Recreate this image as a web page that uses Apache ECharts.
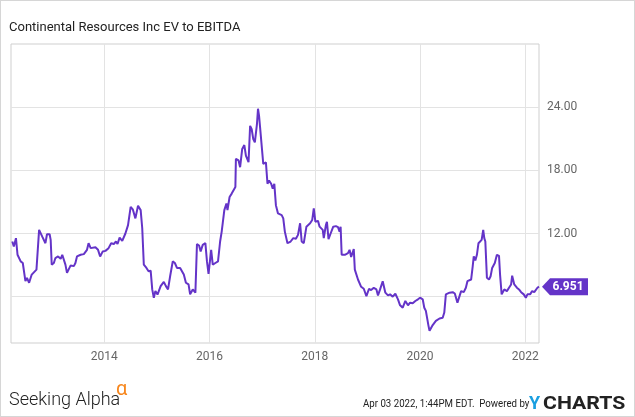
<!DOCTYPE html>
<html>
<head>
<meta charset="utf-8">
<script src="https://cdn.jsdelivr.net/npm/echarts@6.0.0/dist/echarts.min.js"></script>
<style>
  html, body { margin: 0; padding: 0; background: #fff; }
  #chart { width: 635px; height: 417px; box-sizing: border-box; border: 1px solid #d6d6d6; }
</style>
</head>
<body>
<div id="chart"></div>
<script>
// x ticks (years) and y ticks
const yearTicks = [2014, 2016, 2018, 2020, 2022];
const valueTicks = [6, 12, 18, 24];
const valueLabels = [12, 18, 24];
const lastValue = 6.951;

// [decimal year, EV/EBITDA]
const evToEbitda = [
  [2012.25, 11.24], [2012.28, 10.76], [2012.32, 11.56], [2012.35, 9.98], [2012.38, 10.14],
  [2012.41, 9.35], [2012.45, 9.2], [2012.50, 7.47], [2012.53, 7.79], [2012.57, 7.32],
  [2012.62, 8.1], [2012.65, 8.26], [2012.71, 8.57], [2012.73, 8.4], [2012.76, 12.34],
  [2012.79, 12.5], [2012.82, 11.7], [2012.85, 11.6], [2012.88, 11.08], [2012.91, 11.93],
  [2012.96, 11.93], [2012.98, 11.4], [2013.00, 9.04], [2013.04, 9.2], [2013.07, 9.67],
  [2013.12, 9.82], [2013.17, 9.6], [2013.20, 9.98], [2013.23, 9.82], [2013.26, 9.04],
  [2013.29, 8.26], [2013.32, 8.57], [2013.36, 8.97], [2013.42, 8.9], [2013.45, 9.2],
  [2013.48, 9.82], [2013.55, 9.98], [2013.61, 10.04], [2013.67, 10.45], [2013.70, 11.08],
  [2013.74, 10.61], [2013.77, 10.76], [2013.83, 10.7], [2013.88, 10.45], [2013.92, 9.82],
  [2013.97, 10.3], [2014.02, 10.35], [2014.08, 10.61], [2014.13, 11.08], [2014.18, 11.0],
  [2014.22, 11.24], [2014.25, 11.0], [2014.29, 11.61], [2014.34, 11.3], [2014.40, 12.0],
  [2014.45, 12.8], [2014.50, 14.53], [2014.54, 14.3], [2014.59, 13.44], [2014.64, 14.63],
  [2014.69, 14.22], [2014.72, 12.5], [2014.75, 9.04], [2014.80, 8.73], [2014.84, 8.41],
  [2014.88, 8.47], [2014.91, 6.69], [2014.94, 5.9], [2014.97, 6.53], [2015.01, 6.2],
  [2015.07, 7.0], [2015.13, 7.41], [2015.17, 7.0], [2015.21, 6.69], [2015.25, 7.94],
  [2015.30, 9.35], [2015.34, 9.2], [2015.38, 8.73], [2015.44, 8.73], [2015.51, 8.1],
  [2015.55, 7.32], [2015.60, 7.16], [2015.63, 6.22], [2015.68, 6.69], [2015.73, 6.38],
  [2015.76, 10.99], [2015.80, 10.86], [2015.83, 10.3], [2015.87, 10.92], [2015.92, 11.08],
  [2015.95, 9.35], [2015.98, 8.17], [2016.03, 10.45], [2016.06, 9.04], [2016.11, 9.2],
  [2016.16, 9.35], [2016.20, 11.24], [2016.23, 12.18], [2016.28, 14.22], [2016.32, 14.85],
  [2016.34, 14.22], [2016.38, 15.47], [2016.42, 15.79], [2016.45, 15.95], [2016.49, 16.41],
  [2016.50, 19.09], [2016.55, 18.94], [2016.58, 18.3], [2016.62, 20.03], [2016.66, 20.4],
  [2016.69, 19.4], [2016.74, 18.77], [2016.77, 22.22], [2016.80, 21.9], [2016.83, 20.97],
  [2016.86, 20.65], [2016.90, 22.38], [2016.92, 23.85], [2016.94, 23.17], [2016.96, 22.06],
  [2016.99, 21.9], [2017.02, 18.6], [2017.07, 18.77], [2017.10, 16.73], [2017.13, 17.04],
  [2017.17, 16.73], [2017.20, 16.26], [2017.23, 16.73], [2017.26, 14.69], [2017.30, 13.91],
  [2017.37, 13.75], [2017.40, 13.44], [2017.43, 12.18], [2017.48, 11.08], [2017.54, 11.24],
  [2017.59, 11.56], [2017.64, 11.5], [2017.68, 11.87], [2017.72, 12.97], [2017.75, 11.24],
  [2017.79, 11.08], [2017.84, 12.65], [2017.91, 12.97], [2017.95, 13.28], [2017.98, 14.38],
  [2018.01, 13.12], [2018.06, 13.2], [2018.09, 12.65], [2018.15, 12.34], [2018.17, 11.56],
  [2018.21, 12.8], [2018.23, 13.1], [2018.26, 11.46], [2018.30, 12.0], [2018.35, 12.65],
  [2018.40, 12.7], [2018.44, 12.6], [2018.47, 12.18], [2018.49, 12.65], [2018.51, 9.98],
  [2018.57, 9.98], [2018.63, 10.14], [2018.66, 10.45], [2018.69, 9.77], [2018.74, 10.52],
  [2018.76, 8.57], [2018.82, 7.63], [2018.88, 6.94], [2018.93, 6.75], [2018.98, 6.06],
  [2019.03, 6.75], [2019.07, 6.63], [2019.12, 6.84], [2019.17, 6.69], [2019.20, 6.12],
  [2019.24, 6.69], [2019.29, 7.47], [2019.34, 6.38], [2019.39, 6.12], [2019.43, 6.22],
  [2019.48, 6.0], [2019.53, 6.28], [2019.58, 5.75], [2019.62, 5.18], [2019.67, 4.96],
  [2019.72, 5.59], [2019.77, 5.18], [2019.81, 5.43], [2019.86, 5.37], [2019.91, 5.59],
  [2019.96, 5.75], [2020.00, 5.9], [2020.05, 5.75], [2020.08, 4.95], [2020.11, 4.65],
  [2020.14, 4.49], [2020.16, 3.23], [2020.18, 2.76], [2020.21, 2.61], [2020.24, 3.3],
  [2020.27, 3.2], [2020.30, 3.7], [2020.37, 3.93], [2020.43, 4.0], [2020.46, 4.49],
  [2020.49, 6.22], [2020.52, 6.15], [2020.56, 6.38], [2020.62, 6.43], [2020.66, 6.3],
  [2020.71, 5.43], [2020.74, 5.37], [2020.78, 6.53], [2020.83, 6.43], [2020.87, 6.85],
  [2020.90, 7.47], [2020.93, 7.32], [2020.97, 7.63], [2021.00, 8.88], [2021.02, 9.82],
  [2021.05, 9.45], [2021.08, 9.98], [2021.11, 11.08], [2021.14, 10.92], [2021.17, 11.4],
  [2021.20, 12.34], [2021.22, 11.56], [2021.24, 11.24], [2021.27, 7.79], [2021.31, 7.63],
  [2021.34, 7.94], [2021.37, 8.73], [2021.42, 9.2], [2021.46, 9.98], [2021.50, 9.88],
  [2021.52, 8.1], [2021.55, 6.22], [2021.60, 6.69], [2021.65, 6.53], [2021.69, 6.85],
  [2021.73, 7.16], [2021.75, 8.0], [2021.79, 7.16], [2021.84, 6.85], [2021.88, 6.69],
  [2021.92, 6.43], [2021.97, 6.22], [2022.01, 5.9], [2022.04, 6.22], [2022.09, 6.22],
  [2022.13, 6.53], [2022.17, 6.43], [2022.23, 6.85], [2022.26, lastValue]
];

const lineColor = '#6434c8';
const gridColor = '#e3e3e3';
const borderColor = '#cfcfcf';
const labelColor = '#666';

const chart = echarts.init(document.getElementById('chart'));

chart.setOption({
  animation: false,
  backgroundColor: '#fff',
  textStyle: { fontFamily: 'Roboto' },
  title: {
    text: 'Continental Resources Inc EV to EBITDA',
    left: 8,
    top: 20,
    padding: 0,
    textStyle: { fontSize: 13, fontWeight: 'normal', color: '#222', fontFamily: 'Roboto' }
  },
  grid: {
    left: 10,
    right: 95,
    top: 43,
    bottom: 73,
    show: true,
    borderColor: borderColor,
    borderWidth: 1,
    outerBoundsMode: 'none'
  },
  xAxis: {
    type: 'value',
    min: 2012.226,
    max: 2022.26,
    axisLine: { show: false },
    axisTick: { show: false, customValues: yearTicks },
    axisLabel: {
      customValues: yearTicks,
      color: labelColor,
      fontSize: 12,
      margin: 8,
      formatter: (v) => String(Math.round(v))
    },
    splitLine: { show: true, lineStyle: { color: gridColor, width: 1 } }
  },
  yAxis: {
    type: 'value',
    position: 'right',
    min: 1.6,
    max: 30,
    axisLine: { show: false },
    axisTick: { show: false, customValues: valueTicks },
    axisLabel: {
      customValues: valueLabels,
      color: labelColor,
      fontSize: 12,
      margin: 8,
      formatter: (v) => v.toFixed(2)
    },
    splitLine: { show: true, lineStyle: { color: gridColor, width: 1 } }
  },
  series: [
    {
      type: 'line',
      data: evToEbitda,
      showSymbol: false,
      symbol: 'none',
      clip: false,
      lineStyle: { color: lineColor, width: 2 },
      markPoint: {
        silent: true,
        symbol: 'path://M0,8 L8,0 L46,0 L46,16 L8,16 Z',
        symbolSize: [46, 17],
        symbolKeepAspect: false,
        symbolOffset: [26, 0],
        itemStyle: { color: lineColor },
        label: {
          show: true,
          position: 'inside',
          offset: [3, 0],
          color: '#fff',
          fontWeight: 'bold',
          fontSize: 12,
          formatter: () => lastValue.toFixed(3)
        },
        data: [{ coord: [2022.26, lastValue] }]
      }
    }
  ],
  graphic: [
    {
      type: 'text',
      left: 8,
      top: 390,
      style: { text: 'Seeking Alpha', fontSize: 18, fontFamily: 'Roboto', fontWeight: 300, fill: '#222' }
    },
    {
      type: 'text',
      left: 115,
      top: 379,
      style: { text: 'α', fontSize: 20, fontFamily: 'Roboto', fill: '#f7861c' }
    },
    {
      type: 'text',
      x: 362,
      y: 398,
      scaleX: 0.88,
      style: { text: 'Apr 03 2022, 1:44PM EDT.  Powered by', fontSize: 11, fontFamily: 'Roboto', fill: '#222' }
    },
    {
      type: 'text',
      x: 528,
      y: 394,
      style: { text: 'Y', fontSize: 18, fontWeight: 'bold', fontFamily: 'Roboto', fill: '#1a9fe0' }
    },
    {
      type: 'text',
      x: 542,
      y: 394,
      scaleX: 1.18,
      style: { text: 'CHARTS', fontSize: 18, fontWeight: 'bold', fontFamily: 'Roboto', fill: '#222' }
    }
  ]
});
</script>
</body>
</html>
